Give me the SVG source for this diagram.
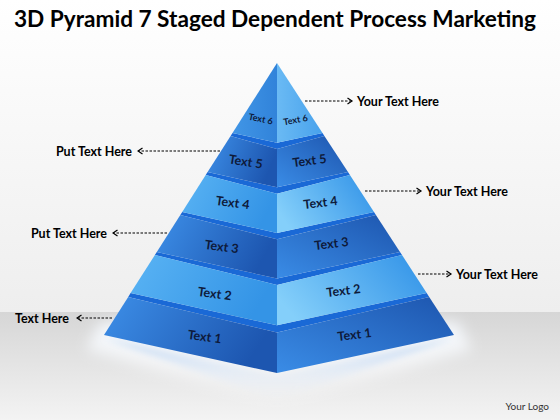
<svg xmlns="http://www.w3.org/2000/svg" width="560" height="420" viewBox="0 0 560 420">
<defs>
<style>
.title{font-family:Lato,"Liberation Sans",sans-serif;font-weight:bold;font-size:22px;fill:#000}
.lbl{font-family:Lato,"Liberation Sans",sans-serif;font-weight:bold;font-size:12.5px;fill:#000}
.lt{font-family:Lato,"Liberation Sans",sans-serif;font-weight:bold;font-size:12.5px;fill:#0e1a3a;text-anchor:middle}
.lt6{font-size:9px}
.logo{font-family:Lato,"Liberation Sans",sans-serif;font-size:10px;fill:#333;text-anchor:end}
.band{fill:#1a69d6}
.dl{fill:url(#gDarkL)}
.dr{fill:url(#gDarkR)}
.ll{fill:url(#gLightL)}
.lr{fill:url(#gLightR)}
.conn{fill:none;stroke:#000;stroke-width:1;stroke-dasharray:2.5,1.5;marker-end:url(#ah)}
</style>
<linearGradient id="gBgTop" x1="0" y1="0" x2="0" y2="1"><stop offset="0" stop-color="#ffffff"/><stop offset="1" stop-color="#eeeeee"/></linearGradient>
<linearGradient id="gBgBot" x1="0" y1="0" x2="0" y2="1"><stop offset="0" stop-color="#d6d6d6"/><stop offset="1" stop-color="#f3f3f3"/></linearGradient>
<linearGradient id="gDarkL" x1="0" y1="0" x2="1" y2="0.3"><stop offset="0" stop-color="#3d8fe8"/><stop offset="1" stop-color="#1d56b0"/></linearGradient>
<linearGradient id="gDarkR" x1="0" y1="1" x2="1" y2="0"><stop offset="0" stop-color="#3a8ce6"/><stop offset="1" stop-color="#1d55ae"/></linearGradient>
<linearGradient id="gLightL" x1="0" y1="0" x2="1" y2="0.3"><stop offset="0" stop-color="#5ab4f4"/><stop offset="1" stop-color="#3494e6"/></linearGradient>
<linearGradient id="gLightR" x1="0" y1="0.6" x2="1" y2="0.2"><stop offset="0" stop-color="#84cffa"/><stop offset="1" stop-color="#3595e8"/></linearGradient>
<linearGradient id="g6L" x1="0" y1="0" x2="1" y2="0"><stop offset="0" stop-color="#4196e6"/><stop offset="1" stop-color="#3183da"/></linearGradient>
<linearGradient id="g6R" x1="0" y1="0" x2="1" y2="0"><stop offset="0" stop-color="#6abaf4"/><stop offset="1" stop-color="#48a2ec"/></linearGradient>
<linearGradient id="gRefl" x1="0" y1="0" x2="0" y2="1"><stop offset="0" stop-color="#f4f8fd" stop-opacity="1"/><stop offset="0.5" stop-color="#f8f9fb" stop-opacity="0.8"/><stop offset="1" stop-color="#ffffff" stop-opacity="0"/></linearGradient>
<linearGradient id="gReflBlue" x1="0" y1="0" x2="0" y2="1"><stop offset="0" stop-color="#b9d3f2" stop-opacity="0.9"/><stop offset="1" stop-color="#e8f0fa" stop-opacity="0"/></linearGradient>
<filter id="blur8" x="-20%" y="-20%" width="140%" height="140%"><feGaussianBlur stdDeviation="7"/></filter>
<filter id="blur3" x="-20%" y="-20%" width="140%" height="140%"><feGaussianBlur stdDeviation="3"/></filter>
<marker id="ah" markerWidth="7" markerHeight="8" refX="5.5" refY="4" orient="auto" markerUnits="userSpaceOnUse"><path d="M1,1 L5.5,4 L1,7" fill="none" stroke="#000" stroke-width="1.2"/></marker>
</defs>

<g id="background">
<rect x="0" y="0" width="560" height="312" fill="url(#gBgTop)"/>
<rect x="0" y="312" width="560" height="108" fill="url(#gBgBot)"/>
<polygon points="100,322 458,322 472,350 277,405 86,350" fill="url(#gRefl)" filter="url(#blur8)"/>
<polygon points="104,338 277,376 454,338 277,400" fill="url(#gReflBlue)" filter="url(#blur3)"/>
</g>

<text class="title" x="14" y="27" textLength="522" lengthAdjust="spacingAndGlyphs">3D Pyramid 7 Staged Dependent Process Marketing</text>

<g id="layer1">
<polygon class="band" points="130.6,293.1 277,325.3 426.7,293.1 429.2,296.9 277,332.6 128.2,296.9"/>
<polygon class="dl" points="128.2,296.9 277,332.6 277,373 104,335"/>
<polygon class="dr" points="277,332.6 429.2,296.9 454,335 277,373"/>
<text class="lt" transform="translate(204,341) rotate(8)">Text 1</text>
<text class="lt" transform="translate(355,339) rotate(-7)">Text 1</text>
</g>

<g id="layer2">
<polygon class="band" points="156.8,252 277,278.5 400,252 402,255 277,284.9 154.9,255"/>
<polygon class="ll" points="154.9,255 277,284.9 277,325.3 130.6,293.1"/>
<polygon class="lr" points="277,284.9 402,255 426.7,293.1 277,325.3"/>
<text class="lt" transform="translate(214,298) rotate(8)">Text 2</text>
<text class="lt" transform="translate(344,295) rotate(-7)">Text 2</text>
</g>

<g id="layer3">
<polygon class="band" points="182.2,212.1 277,232.9 374,212.1 375.9,215 277,239.3 180.3,215"/>
<polygon class="dl" points="180.3,215 277,239.3 277,278.5 156.8,252"/>
<polygon class="dr" points="277,239.3 375.9,215 400,252 277,278.5"/>
<text class="lt" transform="translate(221,251) rotate(8)">Text 3</text>
<text class="lt" transform="translate(332,248) rotate(-7)">Text 3</text>
</g>

<g id="layer4">
<polygon class="band" points="207.6,172.1 277,187.3 348,172.1 349.9,175.1 277,193.7 205.7,175.1"/>
<polygon class="ll" points="205.7,175.1 277,193.7 277,232.9 182.2,212.1"/>
<polygon class="lr" points="277,193.7 349.9,175.1 374,212.1 277,232.9"/>
<text class="lt" transform="translate(232,207) rotate(8)">Text 4</text>
<text class="lt" transform="translate(321,207) rotate(-7)">Text 4</text>
</g>

<g id="layer5">
<polygon class="band" points="232.5,132.9 277,142.7 322.5,132.9 324.4,135.9 277,149.1 230.6,135.9"/>
<polygon class="dl" points="230.6,135.9 277,149.1 277,187.3 207.6,172.1"/>
<polygon class="dr" points="277,149.1 324.4,135.9 348,172.1 277,187.3"/>
<text class="lt" transform="translate(245,166) rotate(9)">Text 5</text>
<text class="lt" transform="translate(310,165) rotate(-8)">Text 5</text>
</g>

<g id="layer6">
<polygon fill="url(#g6L)" points="277,63 232.5,132.9 277,142.7"/>
<polygon fill="url(#g6R)" points="277,63 277,142.7 322.5,132.9"/>
<text class="lt lt6" transform="translate(260,122) rotate(12)">Text 6</text>
<text class="lt lt6" transform="translate(296,123) rotate(-10)">Text 6</text>
</g>

<g id="connectors">
<line class="conn" x1="305" y1="101" x2="352" y2="101"/>
<line class="conn" x1="365" y1="191" x2="421" y2="191"/>
<line class="conn" x1="418" y1="274" x2="451" y2="274"/>
<line class="conn" x1="220" y1="151" x2="138" y2="151"/>
<line class="conn" x1="167" y1="233" x2="113" y2="233"/>
<line class="conn" x1="112" y1="318" x2="77" y2="318"/>
</g>

<g id="label-right-1"><text class="lbl" x="357" y="105.5">Your Text Here</text></g>
<g id="label-right-2"><text class="lbl" x="426" y="195.5">Your Text Here</text></g>
<g id="label-right-3"><text class="lbl" x="456" y="278.5">Your Text Here</text></g>
<g id="label-left-1"><text class="lbl" x="132" y="155.5" text-anchor="end">Put Text Here</text></g>
<g id="label-left-2"><text class="lbl" x="107" y="237.5" text-anchor="end">Put Text Here</text></g>
<g id="label-left-3"><text class="lbl" x="69" y="322.5" text-anchor="end">Text Here</text></g>

<text class="logo" x="549" y="410">Your Logo</text>
</svg>
